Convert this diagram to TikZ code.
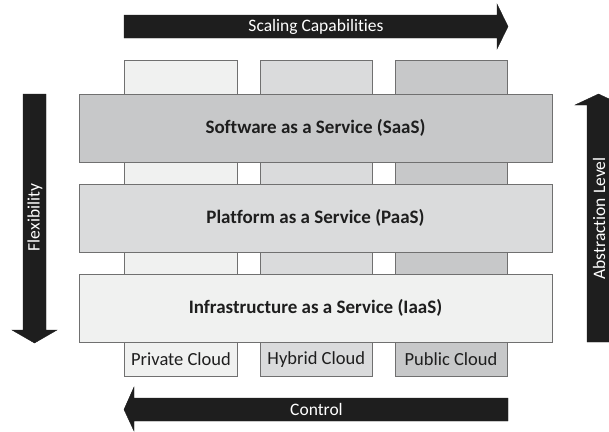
\documentclass[tikz,border=0pt]{standalone}
\usepackage{fontspec}
\setmainfont{Carlito}[Ligatures={NoCommon}]
\definecolor{arrowfill}{HTML}{1E1E1E}
\definecolor{edge}{HTML}{707070}
\definecolor{lightg}{HTML}{F0F1F0}
\definecolor{midg}{HTML}{DADBDC}
\definecolor{darkg}{HTML}{C7C8C9}
\definecolor{txt}{HTML}{1E1E1E}
\tikzset{
  col/.style={draw=edge, line width=0.8pt},
  layer/.style={draw=edge, line width=0.8pt},
  layertext/.style={font=\fontsize{19}{23}\selectfont\bfseries, text=txt},
  collabel/.style={font=\fontsize{18.5}{22}\selectfont, text=txt},
  arr/.style={fill=arrowfill, draw=arrowfill, line width=0.4pt},
  arrtext/.style={font=\fontsize{17.5}{21}\selectfont, text=white},
}
\begin{document}
\begin{tikzpicture}[x=1pt, y=-1pt]
\useasboundingbox (0,0) rectangle (609,431);
\clip (0,0) rectangle (609,431);
\fill[white] (0,0) rectangle (609,431);

% cloud columns
\draw[col, fill=lightg] (124.5,60.5) rectangle (237.5,376);
\draw[col, fill=midg]   (260,60.5) rectangle (372.5,376);
\draw[col, fill=darkg]  (395,60.5) rectangle (507,376);

% service layers
\draw[layer, fill=darkg] (79,94) rectangle (552,162);
\node[layertext] (saas) at (315.5,128) {Software as a Service (SaaS)};
\draw[layer, fill=midg] (79,184) rectangle (552,252);
\node[layertext] (paas) at (315.5,218) {Platform as a Service (PaaS)};
\draw[layer, fill=lightg] (79,274) rectangle (552,342.5);
\node[layertext] (iaas) at (315.5,308) {Infrastructure as a Service (IaaS)};

% column labels
\node[collabel] (priv) at (181,359.5) {Private Cloud};
\node[collabel] (hyb)  at (316.25,359.5) {Hybrid Cloud};
\node[collabel] (pub)  at (451,359.5) {Public Cloud};

% top arrow: scaling capabilities
\draw[arr] (124,15) -- (497,15) -- (497,4) -- (508,26.5) -- (497,49) -- (497,38) -- (124,38) -- cycle;
\node[arrtext] (scal) at (316,26.5) {Scaling Capabilities};

% bottom arrow: control
\draw[arr] (508,398) -- (134,398) -- (134,387) -- (124,409.5) -- (134,431) -- (134,421) -- (508,421) -- cycle;
\node[arrtext] (ctrl) at (316.5,409.5) {Control};

% left arrow: flexibility
\draw[arr] (23,94) -- (46,94) -- (46,330) -- (57,330) -- (34.5,343) -- (12,330) -- (23,330) -- cycle;
\node[arrtext, rotate=90] (flex) at (35,217.5) {Flexibility};

% right arrow: abstraction level
\draw[arr] (587,342) -- (587,105) -- (575,105) -- (598.5,94) -- (622,105) -- (610,105) -- (610,342) -- cycle;
\node[arrtext, rotate=90] (abst) at (599,218.5) {Abstraction Level};
\end{tikzpicture}
\end{document}
